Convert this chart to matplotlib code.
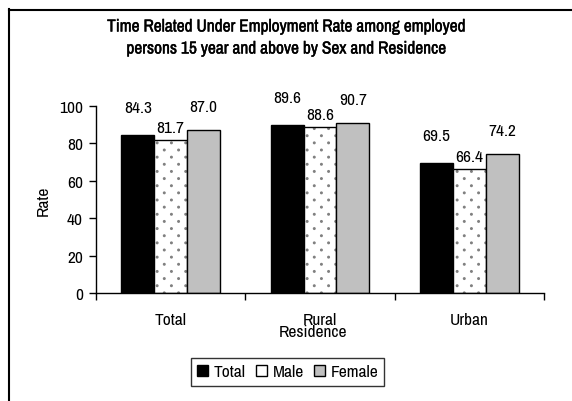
import numpy as np
import matplotlib
matplotlib.use("Agg")
import matplotlib.pyplot as plt
import matplotlib.hatch as mhatch
import matplotlib.patheffects as pe
from matplotlib.lines import Line2D
from matplotlib.path import Path

plt.rcParams['font.family'] = ['Archivo Narrow', 'Liberation Sans', 'DejaVu Sans']

# data
categories = ["Total", "Rural", "Urban"]
series = ["Total", "Male", "Female"]
total = [84.3, 89.6, 69.5]
male = [81.7, 88.6, 66.4]
female = [87.0, 90.7, 74.2]


# sparse staggered dot fill like the original (rows twice as dense as columns)
class StaggeredDots(mhatch.HatchPatternBase):
    def __init__(self, hatch, density):
        self.n = 7 if hatch.count('.') else 0
        circ = Path.unit_circle()
        self.shape_vertices = circ.vertices
        self.shape_codes = circ.codes
        self.num_shapes = (self.n + 1) ** 2 + self.n ** 2 if self.n else 0
        self.num_vertices = self.num_shapes * len(self.shape_vertices)

    def set_vertices_and_codes(self, vertices, codes):
        n = self.n
        step = 1.0 / n
        shape = self.shape_vertices * step * 0.055
        vparts, cparts = [], []
        for row in range(2 * n + 1):
            if row % 2 == 0:
                cols = np.linspace(0, 1, n + 1)
            else:
                cols = np.linspace(step / 2, 1 - step / 2, n)
            for c in cols:
                vparts.append(shape + [c, row * step / 2])
                cparts.append(self.shape_codes)
        np.concatenate(vparts, out=vertices)
        np.concatenate(cparts, out=codes)


mhatch._hatch_types = [t for t in mhatch._hatch_types if t is not mhatch.SmallFilledCircles]
mhatch._hatch_types.append(StaggeredDots)

FS = 12.5

fig = plt.figure(figsize=(5.72, 4.02), dpi=100)
ax = fig.add_axes([0.1678, 0.2687, 0.7832, 0.4652])

x = np.arange(len(categories))
w = 0.22
values = [total, male, female]
faces = ["black", "white", "#c0c0c0"]
label_off = [20, 9, 17]  # points above bar top

for i, (vals, fc) in enumerate(zip(values, faces)):
    pos = x + (i - 1) * w
    if series[i] == "Male":
        ax.bar(pos, vals, w, color="white", edgecolor="#808080", hatch=".", linewidth=0)
        ax.bar(pos, vals, w, color="none", edgecolor="black", linewidth=1, label=series[i])
    else:
        ax.bar(pos, vals, w, color=fc, edgecolor="black", linewidth=1, label=series[i])
    for xp, v in zip(pos, vals):
        ax.annotate(f"{v:.1f}", (xp, v), xytext=(0, label_off[i]), textcoords="offset points",
                    ha="center", va="center", fontsize=FS)

ax.set_xlim(-0.5, 2.5)
ax.set_ylim(0, 100)
ax.set_yticks([0, 20, 40, 60, 80, 100])
ax.tick_params(axis="y", direction="out", length=5, width=1, labelsize=FS, pad=4.5)
ax.set_xticks(x)
ax.set_xticklabels(categories, fontsize=FS)
ax.set_xticks([-0.5, 0.5, 1.5, 2.5], minor=True)
ax.tick_params(axis="x", which="major", length=0, pad=14)
ax.tick_params(axis="x", which="minor", direction="out", length=5, width=1)
for s in ["top", "right"]:
    ax.spines[s].set_visible(False)
for s in ["left", "bottom"]:
    ax.spines[s].set_linewidth(1)

ax.set_xlabel("Residence", fontsize=FS)
ax.xaxis.set_label_coords(0.485, -0.205)
ax.xaxis.label.set_va("center")
ax.set_ylabel("Rate", fontsize=FS)
ax.yaxis.label.set_va("center")
ax.yaxis.set_label_coords(-0.118, 0.5)

bold = [pe.withStroke(linewidth=0.3, foreground="black")]
fig.text(0.502, 1 - 28 / 402, "Time Related Under Employment Rate among employed",
         ha="center", va="center", fontsize=12.5, path_effects=bold)
fig.text(0.502, 1 - 50 / 402, "persons 15 year and above by Sex and Residence",
         ha="center", va="center", fontsize=12.5, path_effects=bold)

handles, labels = ax.get_legend_handles_labels()
leg = fig.legend(handles, labels, loc="center", bbox_to_anchor=(0.503, 1 - 373 / 402), ncol=3,
                 fontsize=FS, frameon=True, fancybox=False, edgecolor="black",
                 handlelength=0.65, handleheight=0.65, handletextpad=0.3, columnspacing=0.6,
                 borderpad=0.35)
leg.get_frame().set_linewidth(1)

# chart border (left and top)
fig.add_artist(Line2D([9 / 572, 9 / 572], [0, 1 - 10 / 402], transform=fig.transFigure, color="black", lw=1.5))
fig.add_artist(Line2D([9 / 572, 1], [1 - 11 / 402, 1 - 11 / 402], transform=fig.transFigure, color="black", lw=1.5))

fig.savefig("out.png", dpi=100)
